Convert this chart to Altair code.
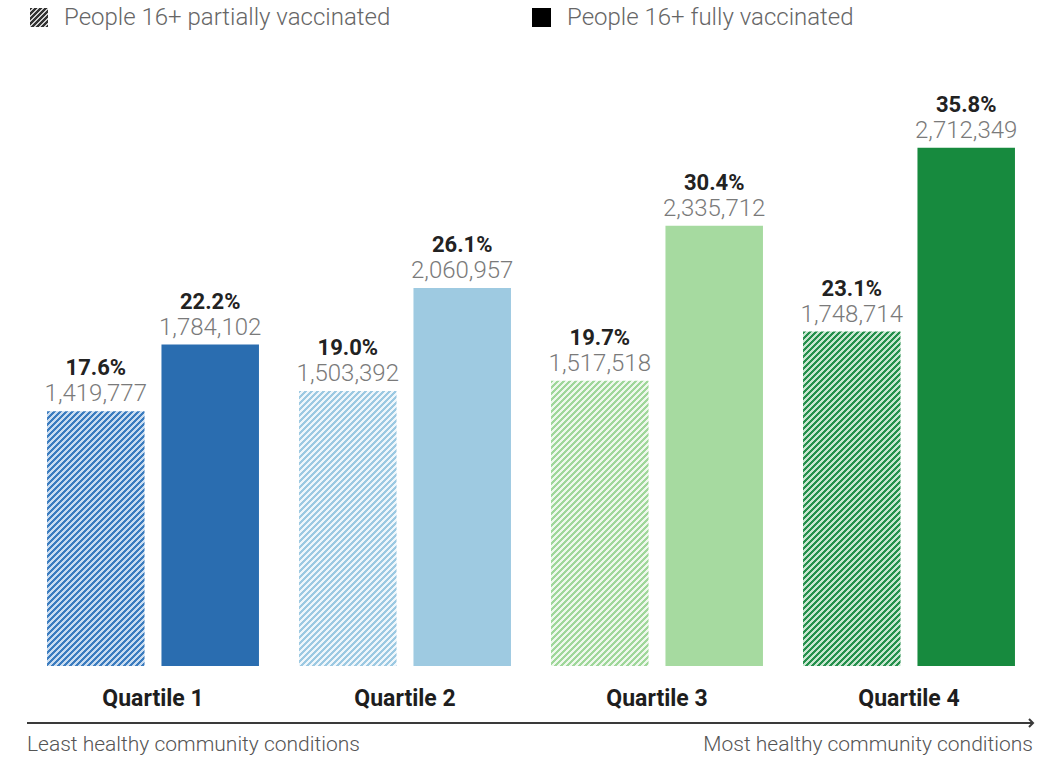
import altair as alt
import pandas as pd

# ---- data -------------------------------------------------------------
quartiles = ["Quartile 1", "Quartile 2", "Quartile 3", "Quartile 4"]
partial_pct = [17.6, 19.0, 19.7, 23.1]
partial_count = [1419777, 1503392, 1517518, 1748714]
full_pct = [22.2, 26.1, 30.4, 35.8]
full_count = [1784102, 2060957, 2335712, 2712349]

full_colors = ["#2a6db0", "#9ecae1", "#a6daa0", "#178a3e"]
hatch_stripe = ["#3b7cbf", "#9cc9e2", "#9fd79a", "#24904c"]
hatch_gap = ["#c9dcf0", "#eef6fb", "#eef8ec", "#c8e6d0"]

legend_labels = ["People 16+ partially vaccinated", "People 16+ fully vaccinated"]
axis_notes = ["Least healthy community conditions", "Most healthy community conditions"]

# ---- layout -----------------------------------------------------------
W, H = 1008, 666
Y_MAX = 46.0
BAR_W = 97.5
PX_PER_UNIT = H / Y_MAX

rows = []
for i, q in enumerate(quartiles):
    rows.append(dict(quartile=q, kind="partial", pct=partial_pct[i], count=partial_count[i]))
    rows.append(dict(quartile=q, kind="full", pct=full_pct[i], count=full_count[i]))
df = pd.DataFrame(rows)
df["pct_label"] = df["pct"].map(lambda v: f"{v:.1f}%")
df["count_label"] = df["count"].map(lambda v: f"{v:,}")


def hatch(w, h, stripe, gap, period=6.0, frac=0.5):
    """Linear gradient with hard stops giving 45-degree '/' stripes on a w x h box."""
    span = w + h
    s = span / (w * w + h * h)
    stops = []
    k = 0
    while k * period < span:
        a = min(k * period / span, 1.0)
        b = min((k + frac) * period / span, 1.0)
        c = min((k + 1) * period / span, 1.0)
        stops += [
            {"offset": a, "color": stripe},
            {"offset": b, "color": stripe},
            {"offset": b, "color": gap},
            {"offset": c, "color": gap},
        ]
        k += 1
    return {"gradient": "linear", "x1": 0, "y1": 0, "x2": s * w, "y2": s * h, "stops": stops}


x_enc = alt.X("quartile:N", scale=alt.Scale(domain=quartiles, paddingInner=0.159, paddingOuter=0.0795), axis=None)
xo_enc = alt.XOffset("kind:N", scale=alt.Scale(domain=["partial", "full"], paddingInner=0.148, paddingOuter=0))
y_enc = alt.Y("pct:Q", scale=alt.Scale(domain=[0, Y_MAX], nice=False, zero=True), axis=None)

base = alt.Chart(df)

full_bars = base.transform_filter(alt.datum.kind == "full").mark_bar().encode(
    x=x_enc, xOffset=xo_enc, y=y_enc,
    color=alt.Color("quartile:N", scale=alt.Scale(domain=quartiles, range=full_colors), legend=None),
)

partial_layers = []
for i, q in enumerate(quartiles):
    grad = hatch(BAR_W, partial_pct[i] * PX_PER_UNIT, hatch_stripe[i], hatch_gap[i], period=6.0, frac=0.5)
    partial_layers.append(
        base.transform_filter((alt.datum.kind == "partial") & (alt.datum.quartile == q))
        .mark_bar(fill=grad)
        .encode(x=x_enc, xOffset=xo_enc, y=y_enc)
    )

pct_text = base.mark_text(
    font="Roboto", fontSize=22, fontWeight="bold", color="#222222", baseline="alphabetic", dy=-36
).encode(x=x_enc, xOffset=xo_enc, y=y_enc, text="pct_label:N")

count_text = base.mark_text(
    font="Roboto", fontSize=24, fontWeight=300, color="#7a7a7a", baseline="alphabetic", dy=-10
).encode(x=x_enc, xOffset=xo_enc, y=y_enc, text="count_label:N")

q_df = pd.DataFrame({"quartile": quartiles})
q_labels = alt.Chart(q_df).mark_text(
    font="Roboto", fontSize=23, fontWeight="bold", color="#1e1e1e", baseline="alphabetic"
).encode(x=x_enc, y=alt.value(706), text="quartile:N")

one = pd.DataFrame({"k": [0]})

arrow_line = alt.Chart(one).mark_rule(stroke="#3a3a3a", strokeWidth=2.2).encode(
    x=alt.value(0), x2=alt.value(1006), y=alt.value(57 + H)
)
arrow_head = alt.Chart(one).mark_point(
    shape="M -1 -1 L 0 0 L -1 1", filled=False, stroke="#3a3a3a", strokeWidth=2, size=64, opacity=1
).encode(x=alt.value(1006), y=alt.value(57 + H))

note_left = alt.Chart(one).mark_text(
    text=axis_notes[0], font="Roboto", fontSize=21, fontWeight=300, color="#555555",
    align="left", baseline="alphabetic"
).encode(x=alt.value(0), y=alt.value(751))
note_right = alt.Chart(one).mark_text(
    text=axis_notes[1], font="Roboto", fontSize=21, fontWeight=300, color="#555555",
    align="right", baseline="alphabetic"
).encode(x=alt.value(1006), y=alt.value(751))

# custom legend at the top
leg_hatch = alt.Chart(one).mark_rect(fill=hatch(18, 19, "#333333", "#d0d0d0", period=5)).encode(
    x=alt.value(3), x2=alt.value(21), y=alt.value(8), y2=alt.value(27)
)
leg_solid = alt.Chart(one).mark_rect(fill="#000000").encode(
    x=alt.value(505), x2=alt.value(524), y=alt.value(8), y2=alt.value(27)
)
leg_text1 = alt.Chart(one).mark_text(
    text=legend_labels[0], font="Roboto", fontSize=24, fontWeight=300, color="#666666",
    align="left", baseline="alphabetic"
).encode(x=alt.value(37), y=alt.value(25))
leg_text2 = alt.Chart(one).mark_text(
    text=legend_labels[1], font="Roboto", fontSize=24, fontWeight=300, color="#666666",
    align="left", baseline="alphabetic"
).encode(x=alt.value(540), y=alt.value(25))

chart = alt.layer(
    full_bars, *partial_layers, pct_text, count_text, q_labels,
    arrow_line, arrow_head, note_left, note_right,
    leg_hatch, leg_solid, leg_text1, leg_text2,
).properties(
    width=W, height=H,
    autosize=alt.AutoSizeParams(type="none"),
    padding={"left": 27, "right": 21, "top": 0, "bottom": 95},
    background="white",
).configure_view(stroke=None)

chart.save("out.html", embed_options={"renderer": "svg", "actions": False})
